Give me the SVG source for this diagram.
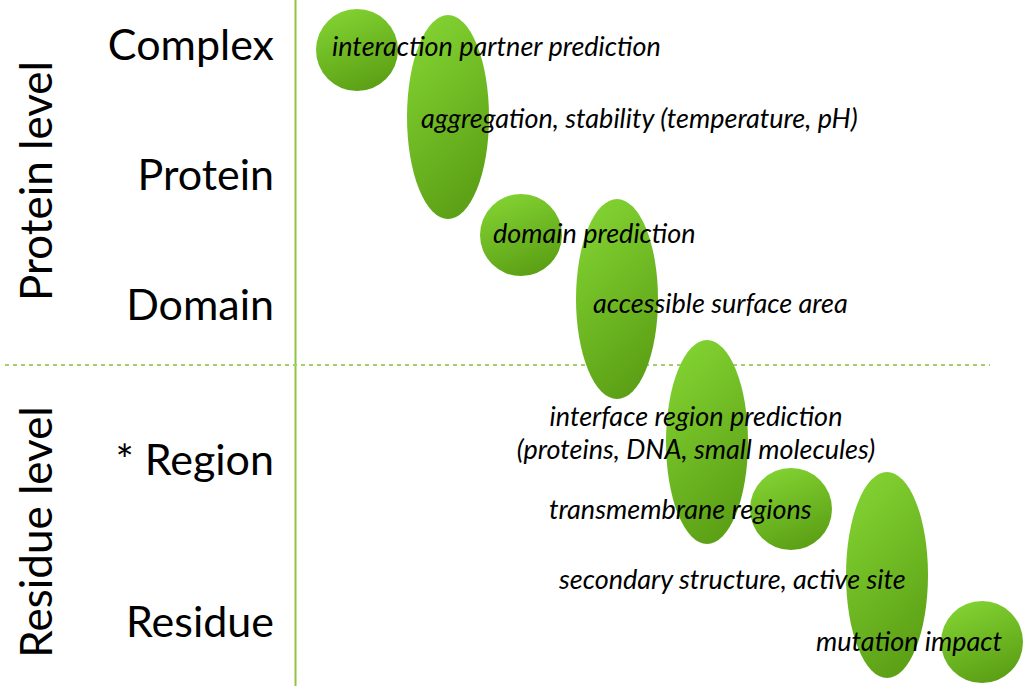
<svg xmlns="http://www.w3.org/2000/svg" width="1024" height="686" viewBox="0 0 1024 686">
<defs>
<linearGradient id="g" x1="0.3" y1="0" x2="0.7" y2="1">
<stop offset="0" stop-color="#82d232"/>
<stop offset="1" stop-color="#5a9e14"/>
</linearGradient>
<style>
.b{fill:url(#g);}
.lvl{font-family:Lato,"Liberation Sans",sans-serif;font-size:43px;fill:#000;text-anchor:end;}
.side{font-family:Lato,"Liberation Sans",sans-serif;font-size:44px;fill:#000;text-anchor:middle;}
.t{font-family:Lato,"Liberation Sans",sans-serif;font-style:italic;font-size:27px;fill:#000;}
</style>
</defs>
<rect width="1024" height="686" fill="#fff"/>
<g id="axes">
<line x1="295.5" y1="0" x2="295.5" y2="686" stroke="#8dc63f" stroke-width="2"/>
<line x1="5" y1="365" x2="990" y2="365" stroke="#a3cf6a" stroke-width="2" stroke-dasharray="4 4"/>
</g>
<g id="labels">
<text class="lvl" x="274" y="60">Complex</text>
<text class="lvl" x="274" y="190">Protein</text>
<text class="lvl" x="274" y="320">Domain</text>
<text class="lvl" x="274" y="475">* Region</text>
<text class="lvl" x="274" y="637">Residue</text>
<text class="side" transform="translate(52,181) rotate(-90)">Protein level</text>
<text class="side" transform="translate(52,532) rotate(-90)">Residue level</text>
</g>
<g id="blobs">
<ellipse id="b1" class="b" cx="357" cy="50" rx="41" ry="41"/>
<ellipse id="b2" class="b" cx="448" cy="117" rx="41" ry="102"/>
<ellipse id="b3" class="b" cx="521" cy="235" rx="41" ry="41"/>
<ellipse id="b4" class="b" cx="617" cy="299" rx="41" ry="100"/>
<ellipse id="b5" class="b" cx="707" cy="442" rx="41" ry="102"/>
<ellipse id="b6" class="b" cx="791" cy="509" rx="41" ry="41"/>
<ellipse id="b7" class="b" cx="887" cy="575" rx="41" ry="103"/>
<ellipse id="b8" class="b" cx="982" cy="642" rx="41" ry="41"/>
</g>
<g id="texts">
<text class="t" x="332" y="56">interaction partner prediction</text>
<text class="t" x="421" y="128">aggregation, stability (temperature, pH)</text>
<text class="t" x="493" y="243">domain prediction</text>
<text class="t" x="593" y="313">accessible surface area</text>
<text class="t" x="696" y="426" text-anchor="middle">interface region prediction</text>
<text class="t" x="696" y="459" text-anchor="middle">(proteins, DNA, small molecules)</text>
<text class="t" x="549" y="519">transmembrane regions</text>
<text class="t" x="559" y="589">secondary structure, active site</text>
<text class="t" x="816" y="651">mutation impact</text>
</g>
</svg>
